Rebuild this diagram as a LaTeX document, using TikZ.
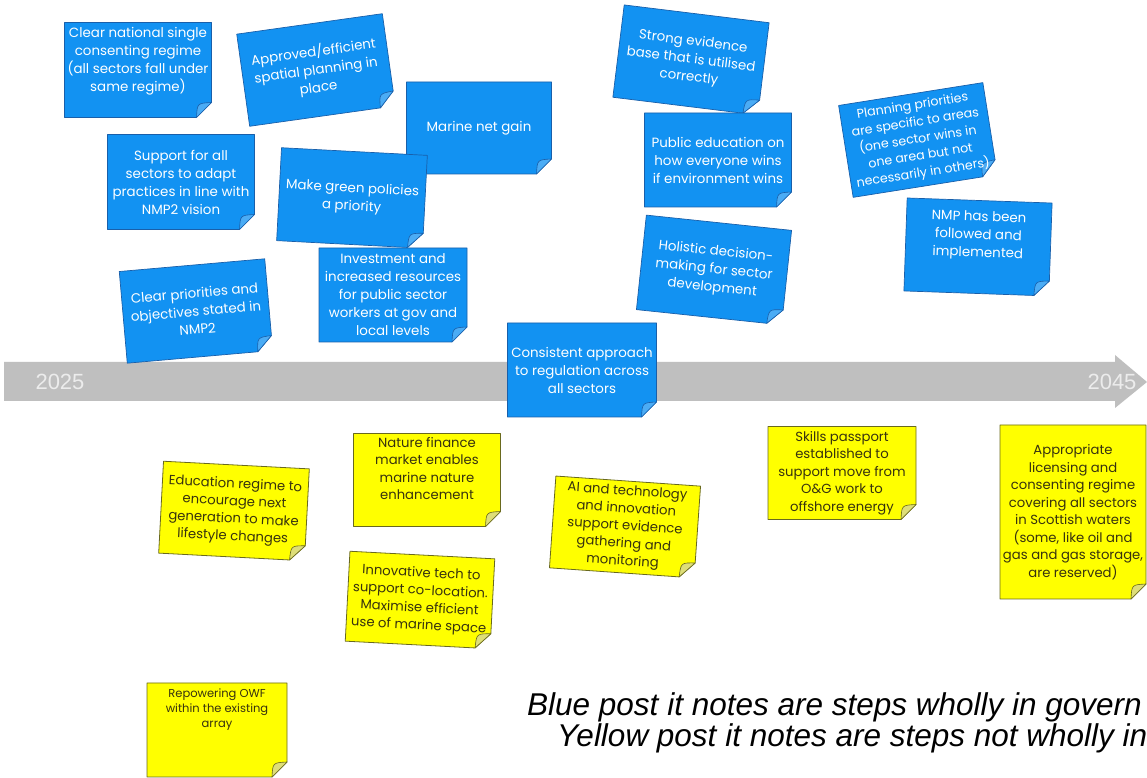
\documentclass[tikz,border=0pt]{standalone}
\usepackage{fontspec}
\newfontfamily\notefont{Poppins}
\newfontfamily\arialfont{Liberation Sans}
\usetikzlibrary{calc,backgrounds}
\pgfdeclarelayer{paper}
\pgfsetlayers{paper,background,main}
\definecolor{notebluefill}{RGB}{18,146,242}
\definecolor{noteblueline}{RGB}{25,95,170}
\definecolor{noteblueflap}{RGB}{75,172,245}
\definecolor{noteyelfill}{RGB}{255,255,0}
\definecolor{noteyelline}{RGB}{105,105,30}
\definecolor{noteyelflap}{RGB}{222,222,120}
\definecolor{noteyeltext}{RGB}{55,50,15}
\definecolor{bandgray}{RGB}{191,191,191}
\definecolor{yeartext}{RGB}{236,236,236}
\tikzset{
  bnote/.style={align=center, text=white, font=\notefont\fontsize{13.4}{18}\selectfont, inner sep=0pt, outer sep=0pt},
  bnotebody/.style={fill=notebluefill, draw=noteblueline, line width=0.7pt, line join=round},
  bnoteflap/.style={fill=noteblueflap, draw=noteblueline, line width=0.6pt, line join=round},
  bnarrow/.style={bnote, font=\notefont\fontsize{12.6}{17}\selectfont},
  bnarrowbody/.style={bnotebody},
  bnarrowflap/.style={bnoteflap},
  ynote/.style={align=center, text=noteyeltext, font=\notefont\fontsize{13.2}{17.5}\selectfont, inner sep=0pt, outer sep=0pt},
  ynotebody/.style={fill=noteyelfill, draw=noteyelline, line width=0.8pt, line join=round},
  ynoteflap/.style={fill=noteyelflap, draw=noteyelline, line width=0.6pt, line join=round},
  ysmall/.style={ynote, font=\notefont\fontsize{11.5}{15}\selectfont},
  ysmallbody/.style={ynotebody},
  ysmallflap/.style={ynoteflap},
  yeartag/.style={font=\arialfont\fontsize{22}{22}\selectfont, text=yeartext, inner sep=0pt},
  legendline/.style={anchor=base west, inner sep=0pt, font=\arialfont\itshape\fontsize{31.5}{31.5}\selectfont, text=black}
}
% #1 name, #2 x, #3 y (from top), #4 angle, #5 width, #6 height, #7 style, #8 text
\newcommand\stickynote[8]{%
  \node[#7, rotate=#4, minimum width=#5pt, minimum height=#6pt] (#1) at (#2,{778-#3}) {#8};
  \coordinate (#1-a) at ($(#1.south east)!15pt!(#1.north east)$);
  \coordinate (#1-b) at ($(#1.south east)!15pt!(#1.south west)$);
  \coordinate (#1-m) at ($(#1-a)!0.5!(#1-b)$);
  \coordinate (#1-p) at ($(#1.south east)!1.9!(#1-m)$);
  \begin{pgfonlayer}{background}
    \path[#7body] (#1.north west) -- (#1.north east) -- (#1-a) -- (#1-b) -- (#1.south west) -- cycle;
    \path[#7flap] (#1-a) .. controls (#1-p) .. (#1-b) -- cycle;
  \end{pgfonlayer}}
\begin{document}
\begin{tikzpicture}[x=1pt,y=1pt]
\useasboundingbox (0,0) rectangle (1147,778);
\begin{pgfonlayer}{paper}
\fill[white] (0,0) rectangle (1147,778);
\end{pgfonlayer}
% timeline band
\begin{pgfonlayer}{background}
\fill[bandgray] (4,{778-362}) -- (1115,{778-362}) -- (1115,{778-355}) -- (1147,{778-382})
  -- (1115,{778-408}) -- (1115,{778-401}) -- (4,{778-401}) -- cycle;
\end{pgfonlayer}
\node[yeartag] (y2025) at (60,{778-382}) {2025};
\node[yeartag] (y2045) at (1112,{778-382}) {2045};
% blue notes
\stickynote{b1}{138}{70}{0}{147}{95}{bnote}{Clear national single\\consenting regime\\(all sectors fall under\\same regime)\\[3pt]}
\stickynote{b2}{316}{70}{8}{147}{93}{bnote}{Approved/efficient\\spatial planning in\\place}
\stickynote{b3}{479}{128}{0}{145}{92}{bnote}{Marine net gain}
\stickynote{b4}{181}{182}{0}{147}{95}{bnote}{Support for all\\sectors to adapt\\practices in line with\\NMP2 vision}
\stickynote{b5}{352}{198}{-3}{146}{93}{bnote}{Make green policies\\a priority}
\stickynote{b6}{393}{295}{0}{148}{94}{bnote}{Investment and\\increased resources\\for public sector\\workers at gov and\\local levels}
\stickynote{b7}{196}{311}{5}{146}{92}{bnote}{Clear priorities and\\objectives stated in\\NMP2}
\stickynote{b8}{691}{60}{-7}{146}{93}{bnote}{Strong evidence\\base that is utilised\\correctly}
\stickynote{b9}{718}{160}{0}{147}{94}{bnote}{Public education on\\how everyone wins\\if environment wins}
\stickynote{b10}{918}{140}{9}{146}{93}{bnarrow}{Planning priorities\\are specific to areas\\(one sector wins in\\one area but not\\necessarily in others)}
\stickynote{b11}{978}{247}{-2}{145}{93}{bnote}{NMP has been\\followed and\\implemented\\[8pt]}
\stickynote{b12}{714}{270}{-6}{146}{95}{bnote}{Holistic decision-\\making for sector\\development}
\stickynote{b13}{582}{370}{0}{149}{94}{bnote}{Consistent approach\\to regulation across\\all sectors}
% yellow notes
\stickynote{y1}{234}{511}{-3}{146}{92}{ynote}{Education regime to\\encourage next\\generation to make\\lifestyle changes}
\stickynote{y2}{427}{480}{0}{147}{93}{ynote}{Nature finance\\market enables\\marine nature\\enhancement\\[6pt]}
\stickynote{y3}{420}{600}{-3}{145}{90}{ynote}{Innovative tech to\\support co-location.\\Maximise efficient\\use of marine space}
\stickynote{y4}{625}{527}{-4}{145}{92}{ynote}{AI and technology\\and innovation\\support evidence\\gathering and\\monitoring}
\stickynote{y5}{842}{473}{0}{148}{93}{ynote}{Skills passport\\established to\\support move from\\O\&G work to\\offshore energy}
\stickynote{y6}{1073}{512}{0}{146}{174}{ynote}{Appropriate\\licensing and\\consenting regime\\covering all sectors\\in Scottish waters\\(some, like oil and\\gas and gas storage,\\are reserved)}
\stickynote{y7}{217}{730}{0}{140}{94}{ysmall}{Repowering OWF\\within the existing\\array\\[28pt]}
% legend
\node[legendline] (legblue) at (527,{778-716}) {Blue post it notes are steps wholly in govern};
\node[legendline] (legyellow) at (557,{778-747}) {Yellow post it notes are steps not wholly in};
\end{tikzpicture}
\end{document}
